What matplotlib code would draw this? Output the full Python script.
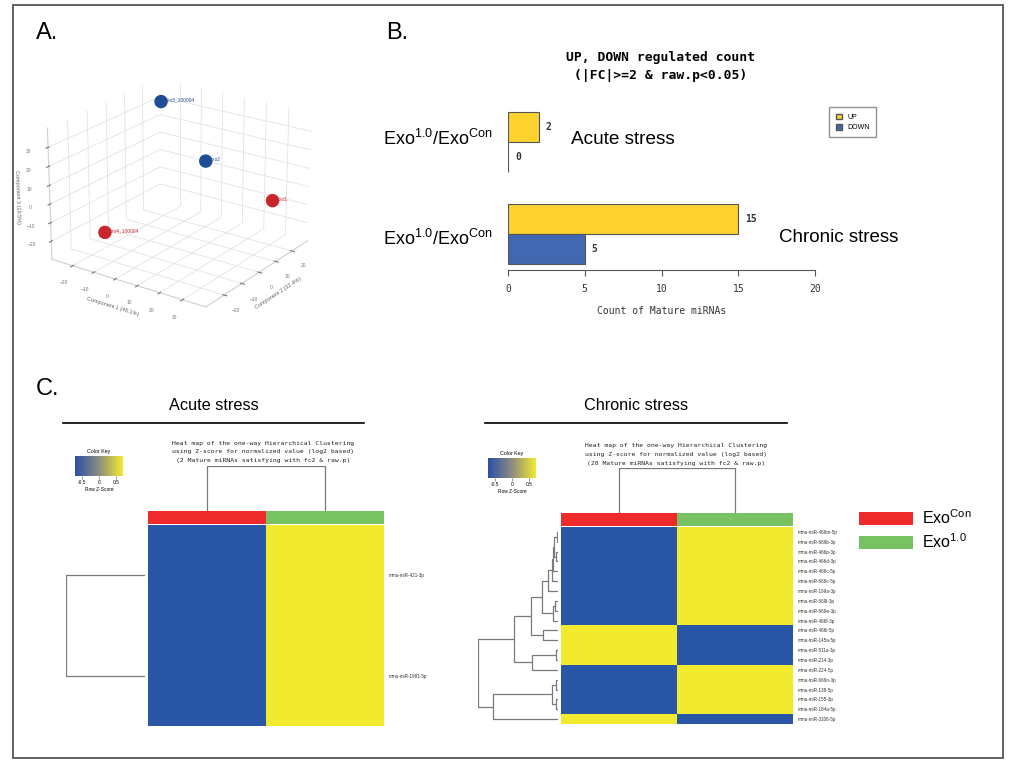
import matplotlib
matplotlib.use('Agg')
import matplotlib.pyplot as plt
import matplotlib.cm as cm
from matplotlib.colors import ListedColormap, LinearSegmentedColormap, Normalize
from matplotlib.patches import Rectangle, Patch
from matplotlib.lines import Line2D

plt.rcParams['font.family'] = ['Liberation Sans', 'DejaVu Sans']
plt.rcParams['mathtext.fontset'] = 'custom'
plt.rcParams['mathtext.rm'] = 'Liberation Sans'
plt.rcParams['mathtext.it'] = 'Liberation Sans:italic'

# ---- A. PCA 3D ----
pca_names = ['Exo3_100004', 'Exo2', 'Exo1', 'Exo4_100004']
pca_groups = ['blue', 'blue', 'red', 'red']
pc1 = [-16, 12, 33, -9]
pc2 = [14, 5, 17, -25]
pc3 = [38, 18, -3, -11]

# ---- B. up/down counts ----
comparisons = ['Chronic', 'Acute']
up_counts = [15, 2]
down_counts = [5, 0]

# ---- C. heatmaps ----
acute_rows = ['mmu-miR-421-3p', 'mmu-miR-1981-5p']
acute_z = [[-0.71, 0.71],
           [-0.71, 0.71]]
acute_tree = (0, 1, 1.0)

chronic_rows = ['mmu-miR-466m-5p', 'mmu-miR-669b-3p', 'mmu-miR-466p-3p', 'mmu-miR-466d-3p',
                'mmu-miR-466c-5p', 'mmu-miR-669c-5p', 'mmu-miR-199a-3p', 'mmu-miR-669l-3p',
                'mmu-miR-669e-3p', 'mmu-miR-466f-3p', 'mmu-miR-466i-5p', 'mmu-miR-145a-5p',
                'mmu-miR-511a-3p', 'mmu-miR-214-3p', 'mmu-miR-224-5p', 'mmu-miR-669n-3p',
                'mmu-miR-138-5p', 'mmu-miR-155-3p', 'mmu-miR-184a-5p', 'mmu-miR-3106-5p']
chronic_z = [[-0.71, 0.71]] * 10 + [[0.71, -0.71]] * 4 + [[-0.71, 0.71]] * 5 + [[0.71, -0.71]]
# (left, right, height) merges
c0_4 = ((((0, 1, 0.15), (2, 3, 0.25), 0.45), 4, 0.6))
c0_6 = ((c0_4, 5, 0.75), 6, 1.25)
c7_9 = ((7, 8, 0.4), 9, 0.65)
c0_11 = ((c0_6, c7_9, 2.0), (10, 11, 1.9), 3.4)
c12_14 = ((12, 13, 0.2), 14, 3.2)
c15_19 = (((15, 16, 0.25), (17, 18, 0.3), 0.7), 19, 8.1)
chronic_tree = ((c0_11, c12_14, 5.5), c15_19, 10.0)
col_tree = (0, 1, 1.0)

group_labels = [r'Exo$^{\mathrm{Con}}$', r'Exo$^{\mathrm{1.0}}$']
group_colors = ['#EE2A2B', '#78C264']
heat_blue = '#2A57A5'
heat_yellow = '#F2EA2F'

W, H = 1025, 761
fig = plt.figure(figsize=(W / 100, H / 100), dpi=100)


def px_axes(x0, y0, x1, y1, **kw):
    return fig.add_axes([x0 / W, 1 - y1 / H, (x1 - x0) / W, (y1 - y0) / H], **kw)


def px_text(x, y, s, **kw):
    return fig.text(x / W, 1 - y / H, s, **kw)


def px_hline(x0, x1, y, color='k', lw=1.2):
    fig.add_artist(Line2D([x0 / W, x1 / W], [1 - y / H, 1 - y / H], color=color, lw=lw))


def draw_tree(ax, node, orient):
    if isinstance(node, int):
        return node, 0.0
    a, b, h = node
    pa, ha = draw_tree(ax, a, orient)
    pb, hb = draw_tree(ax, b, orient)
    hs = [ha, h, h, hb]
    ps = [pa, pa, pb, pb]
    if orient == 'left':
        ax.plot(hs, ps, color='#7a7a7a', lw=0.9, solid_capstyle='butt')
    else:
        ax.plot(ps, hs, color='#7a7a7a', lw=0.9, solid_capstyle='butt')
    return (pa + pb) / 2, h


# outer frame
fig.add_artist(Rectangle((13 / W, 1 - 758 / H), 990 / W, 753 / H, transform=fig.transFigure,
                         fill=False, edgecolor='#555555', lw=1.3))

letter_font = ['Liberation Sans Narrow', 'Liberation Sans']
px_text(36, 33, 'A.', fontsize=17, family=letter_font, va='center')
px_text(386, 33, 'B.', fontsize=17, family=letter_font, va='center')
px_text(36, 389, 'C.', fontsize=17, family=letter_font, va='center')

# ---- panel A ----
ax3 = px_axes(20, 45, 335, 335, projection='3d')
ax3.view_init(elev=22, azim=-55)
cols = {'blue': '#1F4E96', 'red': '#C8262C'}
ax3.scatter(pc1, pc2, pc3, c=[cols[g] for g in pca_groups], s=75, depthshade=False, alpha=1)
for x, y, z, n, g in zip(pc1, pc2, pc3, pca_names, pca_groups):
    ax3.text(x, y, z, '  ' + n, fontsize=3.5, color=cols[g])
for axis in (ax3.xaxis, ax3.yaxis, ax3.zaxis):
    axis.set_pane_color((1, 1, 1, 0))
    axis._axinfo['grid']['color'] = '#e3e3e3'
    axis._axinfo['grid']['linewidth'] = 0.6
    axis.line.set_color('#d0d0d0')
ax3.zaxis.set_ticks_position('lower')
ax3.zaxis.set_label_position('lower')
ax3.set_xlim(-30, 40)
ax3.set_ylim(-30, 30)
ax3.set_zlim(-30, 40)
ax3.set_xticks([-20, -10, 0, 10, 20, 30])
ax3.set_yticks([-20, -10, 0, 10, 20])
ax3.set_zticks([-20, -10, 0, 10, 20, 30])
ax3.tick_params(labelsize=3.5, colors='#777777', pad=0)
ax3.set_xlabel('Component 1 (48.1%)', fontsize=4, color='#666666', labelpad=-8)
ax3.set_ylabel('Component 2 (32.4%)', fontsize=4, color='#666666', labelpad=-8)
ax3.set_zlabel('Component 3 (19.5%)', fontsize=4, color='#666666', labelpad=-8)

# ---- panel B ----
axb = px_axes(508, 100, 815, 270)
bh = 0.33
pos = list(range(len(comparisons)))
up_bars = axb.barh([p + bh / 2 for p in pos], up_counts, height=bh, color='#FDD22E',
                   edgecolor='#555555', lw=0.8, label='UP')
dn_bars = axb.barh([p - bh / 2 for p in pos], down_counts, height=bh, color='#4168B0',
                   edgecolor='#555555', lw=0.8, label='DOWN')
for bars, vals in ((up_bars, up_counts), (dn_bars, down_counts)):
    for b, v in zip(bars, vals):
        axb.annotate(str(v), (v, b.get_y() + b.get_height() / 2), xytext=(5, 0),
                     textcoords='offset points', va='center', ha='left',
                     fontsize=7, family='DejaVu Sans Mono', fontweight='bold', color='#333333')
axb.set_xlim(0, 20)
axb.set_ylim(-0.39, 1.457)
for s in ('top', 'right', 'left'):
    axb.spines[s].set_visible(False)
axb.spines['bottom'].set_color('#555555')
axb.set_yticks([])
axb.set_xticks([0, 5, 10, 15, 20])
axb.tick_params(axis='x', length=4, color='#555555', labelsize=7, labelcolor='#333333', pad=6)
for t in axb.get_xticklabels():
    t.set_family('DejaVu Sans Mono')
axb.set_xlabel('Count of Mature miRNAs', fontsize=7, family='DejaVu Sans Mono',
               color='#333333', labelpad=9)
axb.legend(handles=[Patch(facecolor='#FDD22E', edgecolor='#555555', label='UP'),
                    Patch(facecolor='#4168B0', edgecolor='#555555', label='DOWN')],
           loc='upper left', bbox_to_anchor=(826 / W, 1 - 104 / H), bbox_transform=fig.transFigure,
           fontsize=5, fancybox=False, edgecolor='#777777', handlelength=0.9, handleheight=0.9,
           borderpad=0.9, labelspacing=0.4, handletextpad=0.8)
px_text(661, 57, 'UP, DOWN regulated count', fontsize=9.4, family='DejaVu Sans Mono',
        fontweight='bold', ha='center', va='center')
px_text(661, 75, '(|FC|>=2 & raw.p<0.05)', fontsize=9.4, family='DejaVu Sans Mono',
        fontweight='bold', ha='center', va='center')
exo_lab = r'Exo$^{\mathrm{1.0}}$/Exo$^{\mathrm{Con}}$'
px_text(383, 139, exo_lab, fontsize=13, va='center')
px_text(383, 239, exo_lab, fontsize=13, va='center')
px_text(571, 139, 'Acute stress', fontsize=13.7, va='center')
px_text(779, 238, 'Chronic stress', fontsize=13.5, va='center')

# ---- panel C ----
key_cmap = LinearSegmentedColormap.from_list('key', ['#2B4EA8', '#8C8C80', '#F2EA2E'])
heat_cmap = ListedColormap([heat_blue, heat_yellow])
grp_cmap = ListedColormap(group_colors)


def heatmap_block(hx0, hx1, hy0, hy1, z, rows, tree, tree_x0, top_y, key_x0, key_y0,
                  title_cx, title_y0, n_mirna, section, sec_x0, sec_x1):
    # section title
    px_text((sec_x0 + sec_x1) / 2, 405, section, fontsize=11.7, ha='center', va='center')
    px_hline(sec_x0, sec_x1, 423)
    # heatmap title
    lines = ['Heat map of the one-way Hierarchical Clustering',
             'using Z-score for normalized value (log2 based)',
             '(%d Mature miRNAs satisfying with fc2 & raw.p)' % n_mirna]
    for i, s in enumerate(lines):
        px_text(title_cx, title_y0 + i * 8.7, s, fontsize=4.6, family='DejaVu Sans Mono',
                ha='center', va='center', color='#222222')
    # color key
    cax = px_axes(key_x0, key_y0, key_x0 + 48, key_y0 + 20)
    cb = fig.colorbar(cm.ScalarMappable(norm=Normalize(-0.7, 0.7), cmap=key_cmap), cax=cax,
                      orientation='horizontal', ticks=[-0.5, 0, 0.5])
    cb.outline.set_visible(False)
    cax.tick_params(labelsize=3.5, length=2, width=0.4, pad=1, color='#444444')
    cax.set_xticklabels(['-0.5', '0', '0.5'])
    cax.set_title('Color Key', fontsize=3.8, pad=2)
    cax.set_xlabel('Row Z-Score', fontsize=3.5, labelpad=1)
    # column dendrogram
    dax = px_axes(hx0, top_y, hx1, hy0 - 14)
    draw_tree(dax, col_tree, 'top')
    dax.set_xlim(-0.5, 1.5)
    dax.set_ylim(0, 1.0)
    dax.axis('off')
    # column colour bar
    gax = px_axes(hx0, hy0 - 14, hx1, hy0 - 1)
    gax.imshow([[0, 1]], cmap=grp_cmap, aspect='auto', interpolation='nearest')
    gax.axis('off')
    # heatmap
    hax = px_axes(hx0, hy0, hx1, hy1)
    hax.imshow(z, cmap=heat_cmap, vmin=-0.71, vmax=0.71, aspect='auto', interpolation='nearest')
    hax.set_xticks([])
    hax.set_yticks(range(len(rows)))
    hax.yaxis.tick_right()
    hax.set_yticklabels(rows, fontsize=3.3, color='#333333')
    hax.tick_params(axis='y', length=0, pad=3)
    for s in hax.spines.values():
        s.set_visible(False)
    # row dendrogram
    rax = px_axes(tree_x0, hy0, hx0 - 3, hy1)
    draw_tree(rax, tree, 'left')
    rax.set_xlim(tree[2], 0)
    rax.set_ylim(len(rows) - 0.5, -0.5)
    rax.axis('off')


heatmap_block(148, 384, 525, 726, acute_z, acute_rows, acute_tree, 66, 466, 75, 456,
              263, 443, 2, 'Acute stress', 63, 364)
heatmap_block(561, 793, 527, 724, chronic_z, chronic_rows, chronic_tree, 478, 468, 488, 458,
              676, 446, 20, 'Chronic stress', 485, 787)

# group legend
for i, (lab, col) in enumerate(zip(group_labels, group_colors)):
    y0 = 512 + i * 24
    fig.add_artist(Rectangle((859 / W, 1 - (y0 + 13) / H), 54 / W, 13 / H,
                             transform=fig.transFigure, color=col, lw=0))
    px_text(922, y0 + 6, lab, fontsize=11.5, va='center')

fig.savefig('out.png', dpi=100)
